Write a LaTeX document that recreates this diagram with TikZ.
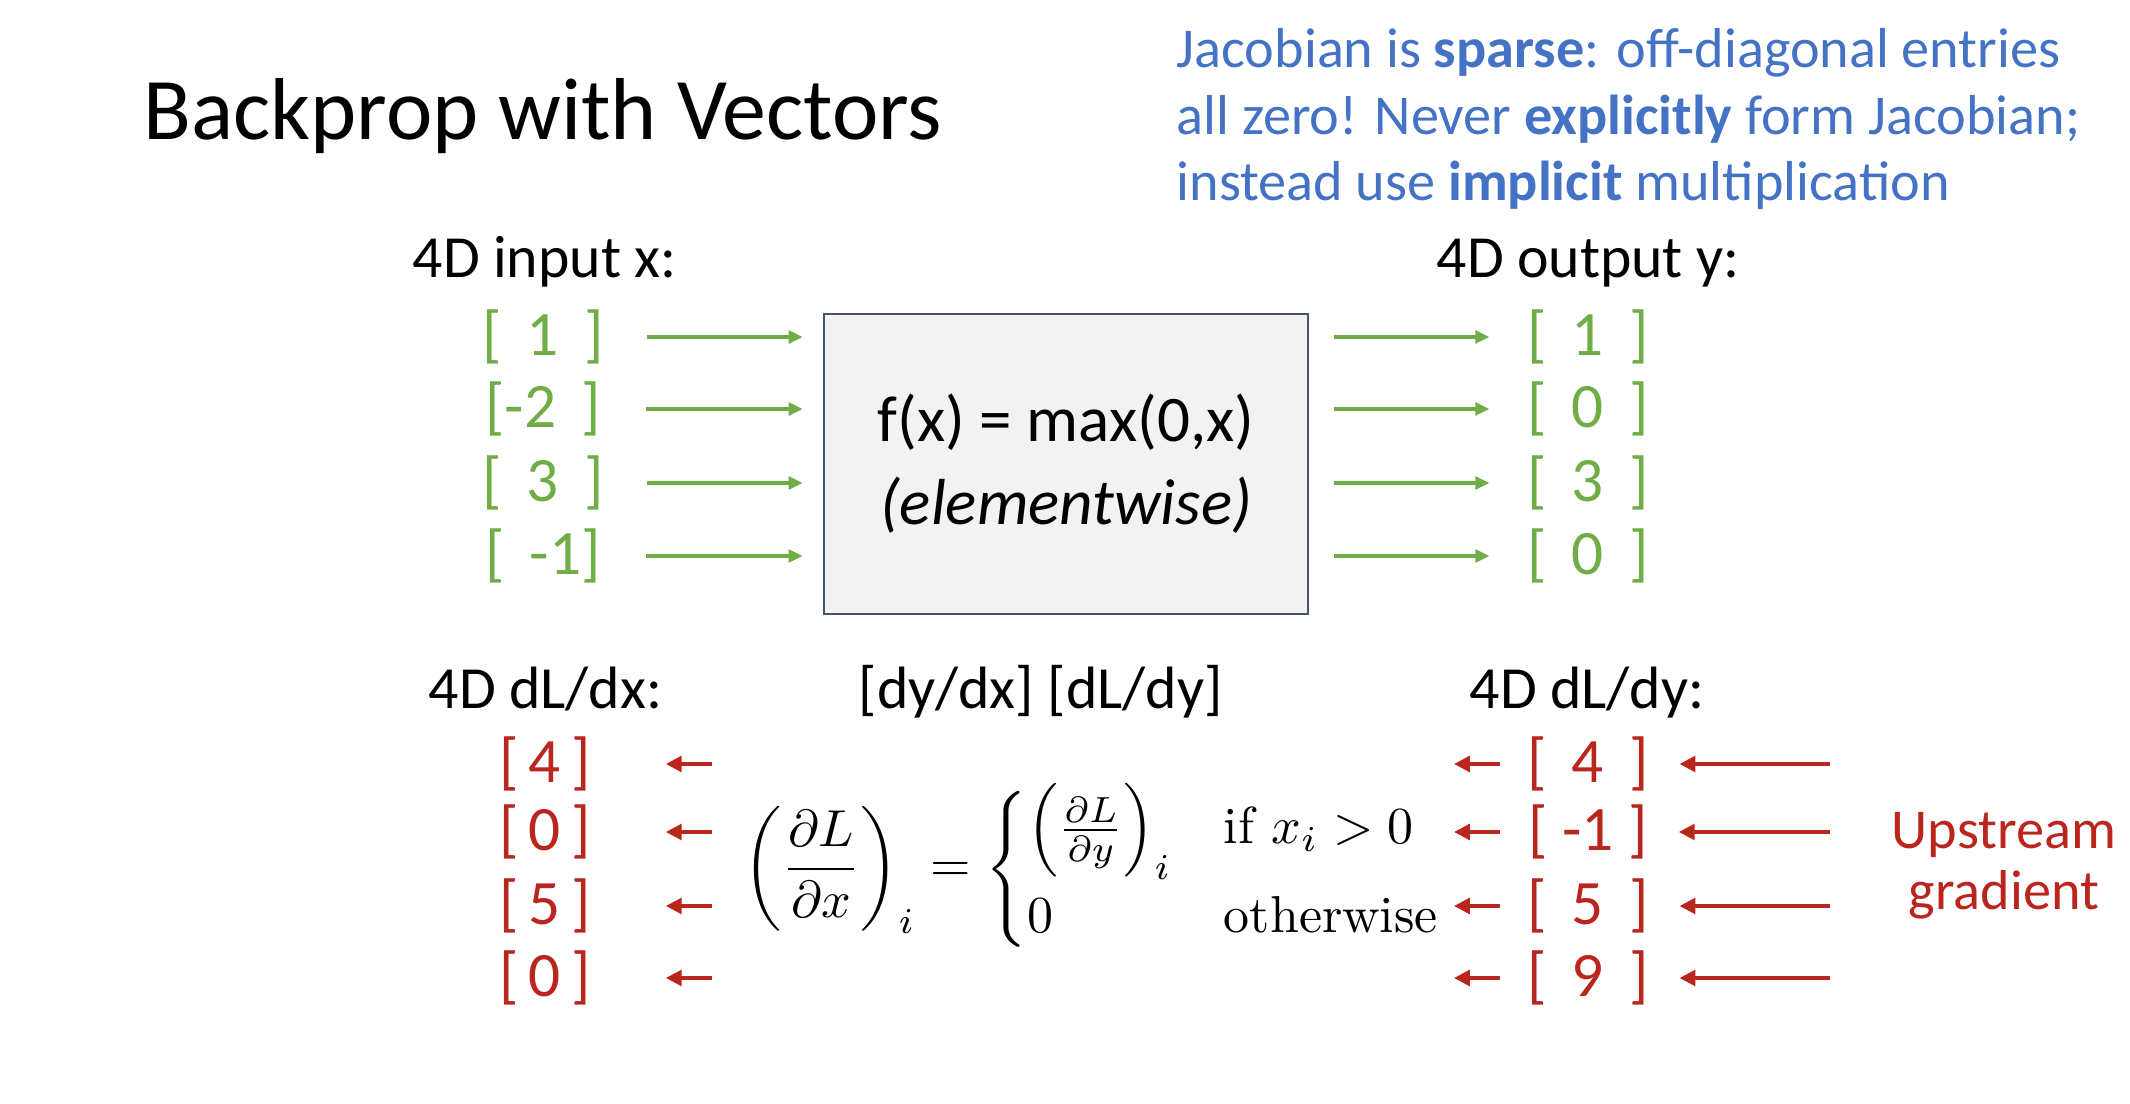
\documentclass[tikz,border=0pt]{standalone}
\usepackage{fontspec}
\usepackage{amsmath}
\usepackage{graphicx}
\usetikzlibrary{arrows.meta}
\newfontfamily\calibri{Carlito}
\newcommand\widesp{\spaceskip=0.4em\relax}
\definecolor{ingreen}{RGB}{112,173,71}
\definecolor{gradred}{RGB}{186,38,30}
\definecolor{noteblue}{RGB}{68,114,196}
\definecolor{boxgray}{RGB}{242,242,242}
\definecolor{boxline}{RGB}{68,84,106}
\begin{document}
\begin{tikzpicture}[x=0.01cm, y=-0.01cm,
  lbl/.style={anchor=base west, inner sep=0, font=\calibri\fontsize{17}{20}\selectfont},
  val/.style={inner sep=0, minimum width=1.2cm, font=\calibri\fontsize{18}{21}\selectfont\widesp},
  garr/.style={-{Triangle[length=4pt,width=3.6pt]}, ingreen, line width=0.95pt},
  rarr/.style={-{Triangle[length=4.5pt,width=4.4pt]}, gradred, line width=1.1pt}]
\useasboundingbox (0,0) rectangle (2130,1104);
\node[anchor=base west, inner sep=0, font=\calibri\fontsize{25}{30}\selectfont] (title) at (143,140) {Backprop with Vectors};
\node[anchor=base west, inner sep=0, align=left, text=noteblue, font=\calibri\fontsize{16}{19}\selectfont] (note) at (1176,201) {Jacobian is \textbf{sparse}: off-diagonal entries\\all zero! Never \textbf{explicitly} form Jacobian;\\instead use \textbf{implicit} multiplication};
\node[lbl] (inlbl) at (412,278) {4D input x:};
\node[lbl] (outlbl) at (1436,278) {4D output y:};
\node[lbl] (dxlbl) at (428,709) {4D dL/dx:};
\node[lbl] (jaclbl) at (858,709) {[dy/dx] [dL/dy]};
\node[lbl] (dylbl) at (1469,709) {4D dL/dy:};
\node[draw=boxline, fill=boxgray, line width=0.6pt, minimum width=4.84cm, minimum height=3cm, align=center, font=\calibri\fontsize{18.5}{23.5}\selectfont] (relu) at (1066,464) {f(x) = max(0,x)\\\textit{(elementwise)}};
\node[val, text=ingreen] (x1) at (543,337) {[ 1 ]};
\node[val, text=ingreen] (x2) at (543,409) {[-2 ]};
\node[val, text=ingreen] (x3) at (543,483) {[ 3 ]};
\node[val, text=ingreen] (x4) at (543,556) {[ -1]};
\node[val, text=ingreen] (y1) at (1588,337) {[ 1 ]};
\node[val, text=ingreen] (y2) at (1588,409) {[ 0 ]};
\node[val, text=ingreen] (y3) at (1588,483) {[ 3 ]};
\node[val, text=ingreen] (y4) at (1588,556) {[ 0 ]};
\node[val, text=gradred] (gx1) at (545,764) {[\,4\,]};
\node[val, text=gradred] (gx2) at (545,832) {[\,0\,]};
\node[val, text=gradred] (gx3) at (545,906) {[\,5\,]};
\node[val, text=gradred] (gx4) at (545,978) {[\,0\,]};
\node[val, text=gradred] (gy1) at (1588,764) {[ 4 ]};
\node[val, text=gradred, font=\calibri\fontsize{18}{21}\selectfont] (gy2) at (1588,832) {[ -1 ]};
\node[val, text=gradred] (gy3) at (1588,906) {[ 5 ]};
\node[val, text=gradred] (gy4) at (1588,978) {[ 9 ]};
\node[inner sep=0] (eq) at (1094,869) {\resizebox{7cm}{!}{$\displaystyle\left(\frac{\partial L}{\partial x}\right)_i = \begin{cases}\left(\frac{\partial L}{\partial y}\right)_i & \text{if } x_i>0\\ 0 & \text{otherwise}\end{cases}$}};
\node[inner sep=0, align=center, text=gradred, font=\calibri\fontsize{16}{17.4}\selectfont] (up) at (2004,866) {Upstream\\gradient};
\draw[garr, shorten <=0.42cm, shorten >=0.2cm] (x1) -- (x1 -| relu.west);
\draw[garr, shorten <=0.42cm, shorten >=0.2cm] (x2) -- (x2 -| relu.west);
\draw[garr, shorten <=0.42cm, shorten >=0.2cm] (x3) -- (x3 -| relu.west);
\draw[garr, shorten <=0.42cm, shorten >=0.2cm] (x4) -- (x4 -| relu.west);
\draw[garr, shorten <=0.25cm, shorten >=0.37cm] (relu.east |- y1) -- (y1);
\draw[garr, shorten <=0.25cm, shorten >=0.37cm] (relu.east |- y2) -- (y2);
\draw[garr, shorten <=0.25cm, shorten >=0.37cm] (relu.east |- y3) -- (y3);
\draw[garr, shorten <=0.25cm, shorten >=0.37cm] (relu.east |- y4) -- (y4);
\draw[rarr, shorten <=0.61cm, shorten >=0.3cm] (up.west |- gy1) -- (gy1);
\draw[rarr, shorten <=0.61cm, shorten >=0.3cm] (up.west |- gy2) -- (gy2);
\draw[rarr, shorten <=0.61cm, shorten >=0.3cm] (up.west |- gy3) -- (gy3);
\draw[rarr, shorten <=0.61cm, shorten >=0.3cm] (up.west |- gy4) -- (gy4);
\draw[rarr, shorten <=0.27cm, shorten >=0.09cm] (gy1) -- (gy1 -| eq.east);
\draw[rarr, shorten <=0.27cm, shorten >=0.09cm] (gy2) -- (gy2 -| eq.east);
\draw[rarr, shorten <=0.27cm, shorten >=0.09cm] (gy3) -- (gy3 -| eq.east);
\draw[rarr, shorten <=0.27cm, shorten >=0.09cm] (gy4) -- (gy4 -| eq.east);
\draw[rarr, shorten <=0.31cm, shorten >=0.6cm] (eq.west |- gx1) -- (gx1);
\draw[rarr, shorten <=0.31cm, shorten >=0.6cm] (eq.west |- gx2) -- (gx2);
\draw[rarr, shorten <=0.31cm, shorten >=0.6cm] (eq.west |- gx3) -- (gx3);
\draw[rarr, shorten <=0.31cm, shorten >=0.6cm] (eq.west |- gx4) -- (gx4);
\end{tikzpicture}
\end{document}
